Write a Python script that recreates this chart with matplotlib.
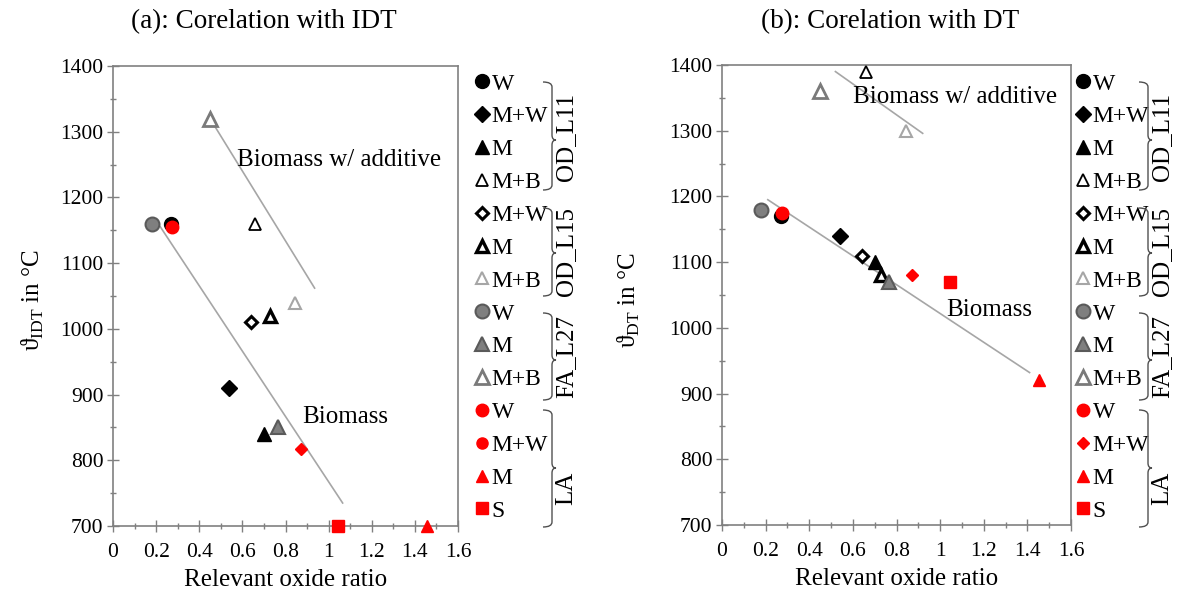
import matplotlib
matplotlib.use('Agg')
import matplotlib.pyplot as plt
from matplotlib.lines import Line2D
from matplotlib.path import Path
from matplotlib.patches import PathPatch

plt.rcParams['font.family'] = ['Liberation Serif', 'DejaVu Serif']
plt.rcParams['mathtext.fontset'] = 'custom'
plt.rcParams['mathtext.rm'] = 'Liberation Serif'

# samples (legend order)
groups = ['OD_L11'] * 4 + ['OD_L15'] * 3 + ['FA_L27'] * 3 + ['LA'] * 4
labels = ['W', 'M+W', 'M', 'M+B', 'M+W', 'M', 'M+B', 'W', 'M', 'M+B', 'W', 'M+W', 'M', 'S']
oxide_ratio = [0.27, 0.54, 0.70, 0.66, 0.64, 0.73, 0.845, 0.18, 0.765, 0.45, 0.273, 0.873, 1.455, 1.045]
idt = [1160, 910, 840, 1160, 1010, 1020, 1040, 1160, 850, 1320, 1155, 817, 700, 700]
dt = [1170, 1140, 1100, 1390, 1110, 1080, 1300, 1180, 1070, 1360, 1175, 1080, 920, 1070]

# trend lines (end points)
idt_add_x, idt_add_y = [0.45, 0.935], [1320, 1062]
idt_bio_x, idt_bio_y = [0.22, 1.065], [1155, 735]
dt_add_x, dt_add_y = [0.52, 0.92], [1390, 1296]
dt_bio_x, dt_bio_y = [0.21, 1.41], [1195, 932]

# marker styles: marker, face, edge, size, edge width
styles = [
    ('o', 'black', 'black', 10, 1),
    ('D', 'black', 'black', 8, 1),
    ('^', 'black', 'black', 10, 1),
    ('^', 'white', 'black', 9, 1.3),
    ('D', 'white', 'black', 6.5, 2.2),
    ('^', 'white', 'black', 8, 2.4),
    ('^', 'white', '#a6a6a6', 9, 1.5),
    ('o', '#7f7f7f', '#5a5a5a', 10, 1.5),
    ('^', '#7f7f7f', '#5a5a5a', 10, 1.5),
    ('^', 'white', '#7a7a7a', 9.5, 2),
    ('o', 'red', 'red', 9, 1),
    ('D', 'red', 'red', 6, 1),
    ('^', 'red', 'red', 8, 1),
    ('s', 'red', 'red', 8.5, 1),
]

W, H = 1181, 599
fig = plt.figure(figsize=(W / 100, H / 100), dpi=100)
ax1 = fig.add_axes([113 / W, 1 - 526 / H, 345 / W, 460 / H])
ax2 = fig.add_axes([722 / W, 1 - 525 / H, 349 / W, 460 / H])


def brace(x0, x1, xp, ytop, ybot, ymid, r=5):
    pts = [(x0, ytop), (x1, ytop), (x1, ytop + r), (x1, ymid - r), (x1, ymid), (xp, ymid),
           (x1, ymid), (x1, ymid + r), (x1, ybot - r), (x1, ybot), (x0, ybot)]
    codes = [Path.MOVETO, Path.CURVE3, Path.CURVE3, Path.LINETO, Path.CURVE3, Path.CURVE3,
             Path.CURVE3, Path.CURVE3, Path.LINETO, Path.CURVE3, Path.CURVE3]
    pts = [(px / W, 1 - py / H) for px, py in pts]
    fig.patches.append(PathPatch(Path(pts, codes), transform=fig.transFigure,
                                 fill=False, edgecolor='#505050', lw=1))


def draw(ax, y, add_x, add_y, bio_x, bio_y, circle_lamw, leg_x, dx, ylabel, ylab_x, title,
         title_x, add_pos, bio_pos):
    ax.plot(add_x, add_y, color='#a6a6a6', lw=1.2)
    ax.plot(bio_x, bio_y, color='#a6a6a6', lw=1.2)
    handles = []
    for i in range(len(labels)):
        m, fc, ec, ms, mew = styles[i]
        h, = ax.plot(oxide_ratio[i], y[i], linestyle='none', marker=m, markerfacecolor=fc,
                     markeredgecolor=ec, markersize=ms, markeredgewidth=mew, clip_on=False,
                     zorder=3)
        handles.append(h)
    if circle_lamw:
        handles[11] = Line2D([], [], linestyle='none', marker='o', markerfacecolor='red',
                             markeredgecolor='red', markersize=8)
    ax.text(add_pos[0], add_pos[1], 'Biomass w/ additive', fontsize=18, va='center')
    ax.text(bio_pos[0], bio_pos[1], 'Biomass', fontsize=18, va='center')

    ax.set_xlim(0, 1.6)
    ax.set_ylim(700, 1400)
    ax.set_xticks([0, 0.2, 0.4, 0.6, 0.8, 1.0, 1.2, 1.4, 1.6])
    ax.set_xticklabels(['0', '0.2', '0.4', '0.6', '0.8', '1', '1.2', '1.4', '1.6'])
    ax.set_xticks([0.1, 0.3, 0.5, 0.7, 0.9, 1.1, 1.3, 1.5], minor=True)
    ax.set_yticks(range(700, 1401, 100))
    ax.set_yticks(range(750, 1400, 100), minor=True)
    ax.tick_params(which='major', direction='inout', length=8, width=1, color='#808080',
                   labelsize=15.5, pad=3)
    ax.tick_params(axis='x', which='major', pad=8)
    ax.tick_params(which='minor', direction='inout', length=5, width=1, color='#808080')
    for s in ax.spines.values():
        s.set_color('#808080')
        s.set_linewidth(1.2)
    ax.set_xlabel('Relevant oxide ratio', fontsize=18, labelpad=5)

    fig.text(ylab_x / W, 1 - 300 / H, ylabel, rotation=90, fontsize=18, ha='center', va='center')
    fig.text(title_x / W, 1 - 22 / H, title, fontsize=19.5, ha='center', va='center')

    ax.legend(handles, labels, loc='upper left', bbox_to_anchor=(leg_x / W, 1 - 73 / H),
              bbox_transform=fig.transFigure, frameon=False, fontsize=17, handlelength=0.6,
              handletextpad=0.1, labelspacing=0.48, borderpad=0, borderaxespad=0)

    # group braces with labels
    brace(543 + dx, 552 + dx, 556 + dx, 82, 190, 140)
    brace(543 + dx, 552 + dx, 556 + dx, 208, 296, 253)
    brace(543 + dx, 552 + dx, 556 + dx, 313, 400, 360)
    brace(543 + dx, 552 + dx, 556 + dx, 410, 527, 468)
    for name, yc in [('OD_L11', 137), ('OD_L15', 252), ('FA_L27', 357), ('LA', 488)]:
        fig.text((566 + dx) / W, 1 - yc / H, name, rotation=90, fontsize=18,
                 ha='center', va='center')


draw(ax1, idt, idt_add_x, idt_add_y, idt_bio_x, idt_bio_y, True, 475, 0,
     r'ϑ$_\mathregular{IDT}$ in °C', 33, '(a): Corelation with IDT', 264,
     (0.575, 1257), (0.877, 866))
draw(ax2, dt, dt_add_x, dt_add_y, dt_bio_x, dt_bio_y, False, 1076, 596,
     r'ϑ$_\mathregular{DT}$ in °C', 629, '(b): Corelation with DT', 890,
     (0.599, 1352), (1.03, 1027))

fig.savefig('out.png', dpi=100)
